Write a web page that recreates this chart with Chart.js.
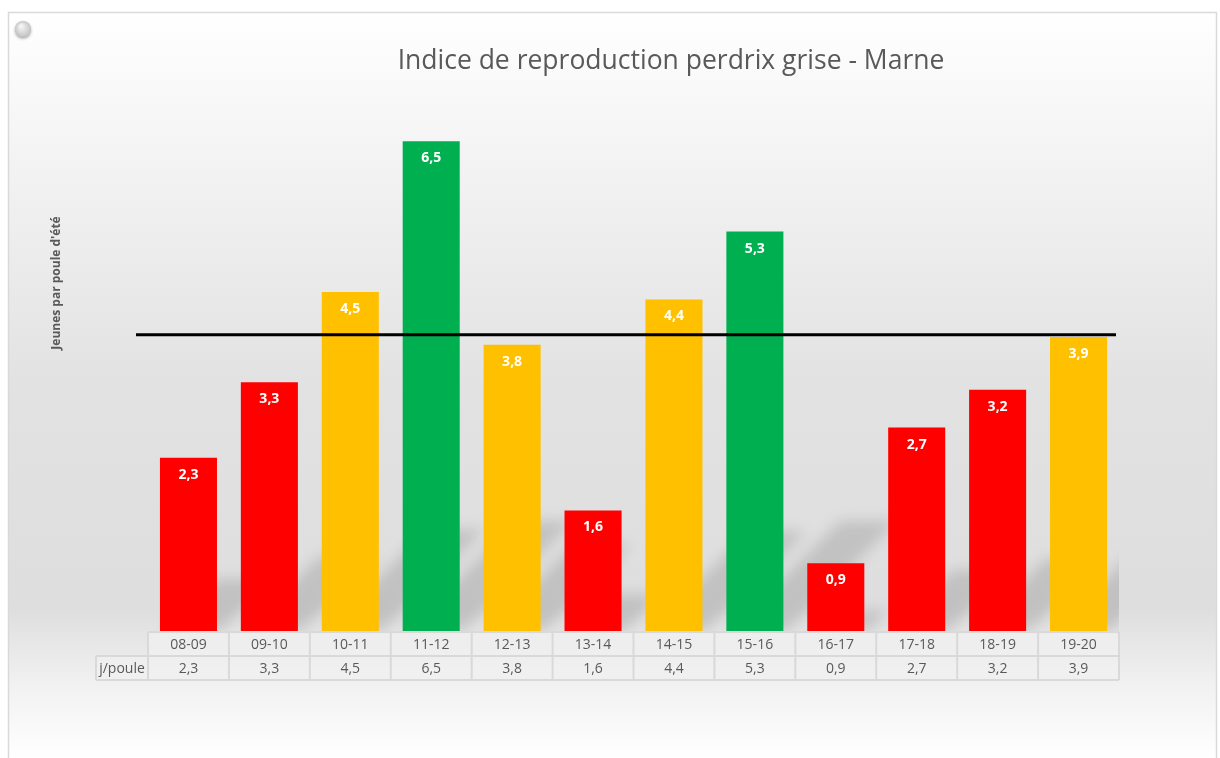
<!DOCTYPE html>
<html>
<head>
<meta charset="utf-8">
<script src="https://cdn.jsdelivr.net/npm/chart.js@4/dist/chart.umd.min.js"></script>
<style>
  html, body { margin: 0; padding: 0; background: #ffffff; }
  #wrap { width: 1220px; height: 758px; }
</style>
</head>
<body>
<div id="wrap"><canvas id="c" width="1220" height="758"></canvas></div>
<script>
const chartTitle = 'Indice de reproduction perdrix grise - Marne';
const yAxisTitle = "Jeunes par poule d'été";
const rowLabel = 'j/poule';
const categories = ['08-09','09-10','10-11','11-12','12-13','13-14','14-15','15-16','16-17','17-18','18-19','19-20'];
const values = [2.3, 3.3, 4.5, 6.5, 3.8, 1.6, 4.4, 5.3, 0.9, 2.7, 3.2, 3.9];
const barColors = ['#FF0000','#FF0000','#FFC000','#00B050','#FFC000','#FF0000','#FFC000','#00B050','#FF0000','#FF0000','#FF0000','#FFC000'];
const thresholdValue = 3.93;
const yMin = 0, yMax = 7;

const fmt = v => v.toFixed(1).replace('.', ',');
const TEXT = '#595959';
const FONT = '"Open Sans", "Liberation Sans", sans-serif';

const backgroundPlugin = {
  id: 'bg',
  beforeDraw(chart) {
    const ctx = chart.ctx, W = chart.width, H = chart.height;
    ctx.save();
    ctx.fillStyle = '#ffffff';
    ctx.fillRect(0, 0, W, H);
    const g = ctx.createLinearGradient(0, 12, 0, H);
    g.addColorStop(0.00, '#ffffff');
    g.addColorStop(0.20, '#f3f3f3');
    g.addColorStop(0.50, '#e2e2e2');
    g.addColorStop(0.80, '#dedede');
    g.addColorStop(0.90, '#f1f1f1');
    g.addColorStop(1.00, '#ffffff');
    ctx.fillStyle = g;
    ctx.fillRect(9, 13, 1207, H);
    ctx.strokeStyle = '#d9d9d9';
    ctx.lineWidth = 1.5;
    ctx.strokeRect(8.5, 12.5, 1208, H + 20);
    ctx.shadowColor = 'rgba(0,0,0,0.35)';
    ctx.shadowBlur = 3;
    ctx.shadowOffsetY = 1.5;
    const rg = ctx.createRadialGradient(21, 26, 1, 23, 29, 8);
    rg.addColorStop(0, '#f4f4f4');
    rg.addColorStop(1, '#c4c4c4');
    ctx.fillStyle = rg;
    ctx.beginPath();
    ctx.arc(23, 29, 8, 0, Math.PI * 2);
    ctx.fill();
    ctx.restore();
  }
};

const shadowPlugin = {
  id: 'barShadows',
  beforeDatasetsDraw(chart) {
    const ctx = chart.ctx, area = chart.chartArea;
    const meta = chart.getDatasetMeta(0);
    ctx.save();
    ctx.beginPath();
    ctx.rect(area.left, area.top, area.right - area.left, area.bottom - area.top);
    ctx.clip();
    ctx.filter = 'blur(7px)';
    ctx.fillStyle = 'rgba(0,0,0,0.13)';
    meta.data.forEach(bar => {
      const p = bar.getProps(['x', 'y', 'base', 'width'], true);
      const h = p.base - p.y;
      const dy = Math.min(h * 0.3, 110), dx = dy * 1.0;
      const l = p.x - p.width / 2, r = p.x + p.width / 2;
      ctx.beginPath();
      ctx.moveTo(l + 4, p.base);
      ctx.lineTo(r + 4, p.base);
      ctx.lineTo(r + 4 + dx, p.base - dy);
      ctx.lineTo(l + 4 + dx, p.base - dy);
      ctx.closePath();
      ctx.fill();
    });
    ctx.restore();
  }
};

const overlayPlugin = {
  id: 'overlay',
  afterDatasetsDraw(chart) {
    const ctx = chart.ctx, area = chart.chartArea;
    const xs = chart.scales.x, ys = chart.scales.y;
    const meta = chart.getDatasetMeta(0);
    ctx.save();
    ctx.fillStyle = '#ffffff';
    ctx.font = 'bold 14px ' + FONT;
    ctx.textAlign = 'center';
    ctx.textBaseline = 'middle';
    meta.data.forEach((bar, i) => {
      ctx.fillText(fmt(values[i]), bar.x, bar.y + 17);
    });
    const ty = ys.getPixelForValue(thresholdValue);
    ctx.strokeStyle = '#000000';
    ctx.lineWidth = 3;
    ctx.beginPath();
    ctx.moveTo(area.left - 12, ty);
    ctx.lineTo(area.right - 3, ty);
    ctx.stroke();

    const slot = (area.right - area.left) / categories.length;
    const r1t = area.bottom + 1, r1b = area.bottom + 25, r2b = area.bottom + 49;
    ctx.fillStyle = 'rgba(240,240,240,0.75)';
    ctx.fillRect(area.left, r1t, area.right - area.left, r2b - r1t);
    ctx.fillRect(96, r1b, area.left - 96, r2b - r1b);
    ctx.strokeStyle = '#d9d9d9';
    ctx.lineWidth = 2;
    ctx.beginPath();
    ctx.moveTo(area.left, r1t); ctx.lineTo(area.right, r1t);
    ctx.moveTo(96, r1b); ctx.lineTo(area.right, r1b);
    ctx.moveTo(96, r2b); ctx.lineTo(area.right, r2b);
    ctx.moveTo(96, r1b); ctx.lineTo(96, r2b);
    for (let i = 0; i <= categories.length; i++) {
      const x = xs.getPixelForValue(i) - slot / 2;
      ctx.moveTo(x, r1t); ctx.lineTo(x, r2b);
    }
    ctx.stroke();
    ctx.fillStyle = TEXT;
    ctx.font = '14px ' + FONT;
    categories.forEach((c, i) => {
      const x = xs.getPixelForValue(i);
      ctx.fillText(c, x, (r1t + r1b) / 2 + 1);
      ctx.fillText(fmt(values[i]), x, (r1b + r2b) / 2 + 1);
    });
    ctx.fillText(rowLabel, (96 + area.left) / 2, (r1b + r2b) / 2 + 1);

    let fs = 30;
    ctx.font = fs + 'px ' + FONT;
    while (ctx.measureText(chartTitle).width > 551 && fs > 10) {
      fs -= 0.5;
      ctx.font = fs + 'px ' + FONT;
    }
    ctx.fillStyle = TEXT;
    ctx.fillText(chartTitle, 671, 61);

    ctx.translate(57, 283);
    ctx.rotate(-Math.PI / 2);
    let fy = 12;
    ctx.font = 'bold ' + fy + 'px ' + FONT;
    while (ctx.measureText(yAxisTitle).width > 143 && fy > 6) {
      fy -= 0.5;
      ctx.font = 'bold ' + fy + 'px ' + FONT;
    }
    ctx.fillText(yAxisTitle, 0, 0);
    ctx.restore();
  }
};

new Chart(document.getElementById('c'), {
  type: 'bar',
  data: {
    labels: categories,
    datasets: [{
      label: rowLabel,
      data: values,
      backgroundColor: barColors,
      borderWidth: 0,
      categoryPercentage: 1.0,
      barPercentage: 0.705
    }]
  },
  options: {
    responsive: false,
    animation: false,
    layout: { padding: { left: 148, right: 101, top: 103.5, bottom: 127 } },
    plugins: {
      legend: { display: false },
      title: { display: false },
      tooltip: { enabled: false }
    },
    scales: {
      x: { display: false },
      y: { display: false, min: yMin, max: yMax }
    }
  },
  plugins: [backgroundPlugin, shadowPlugin, overlayPlugin]
});
</script>
</body>
</html>
